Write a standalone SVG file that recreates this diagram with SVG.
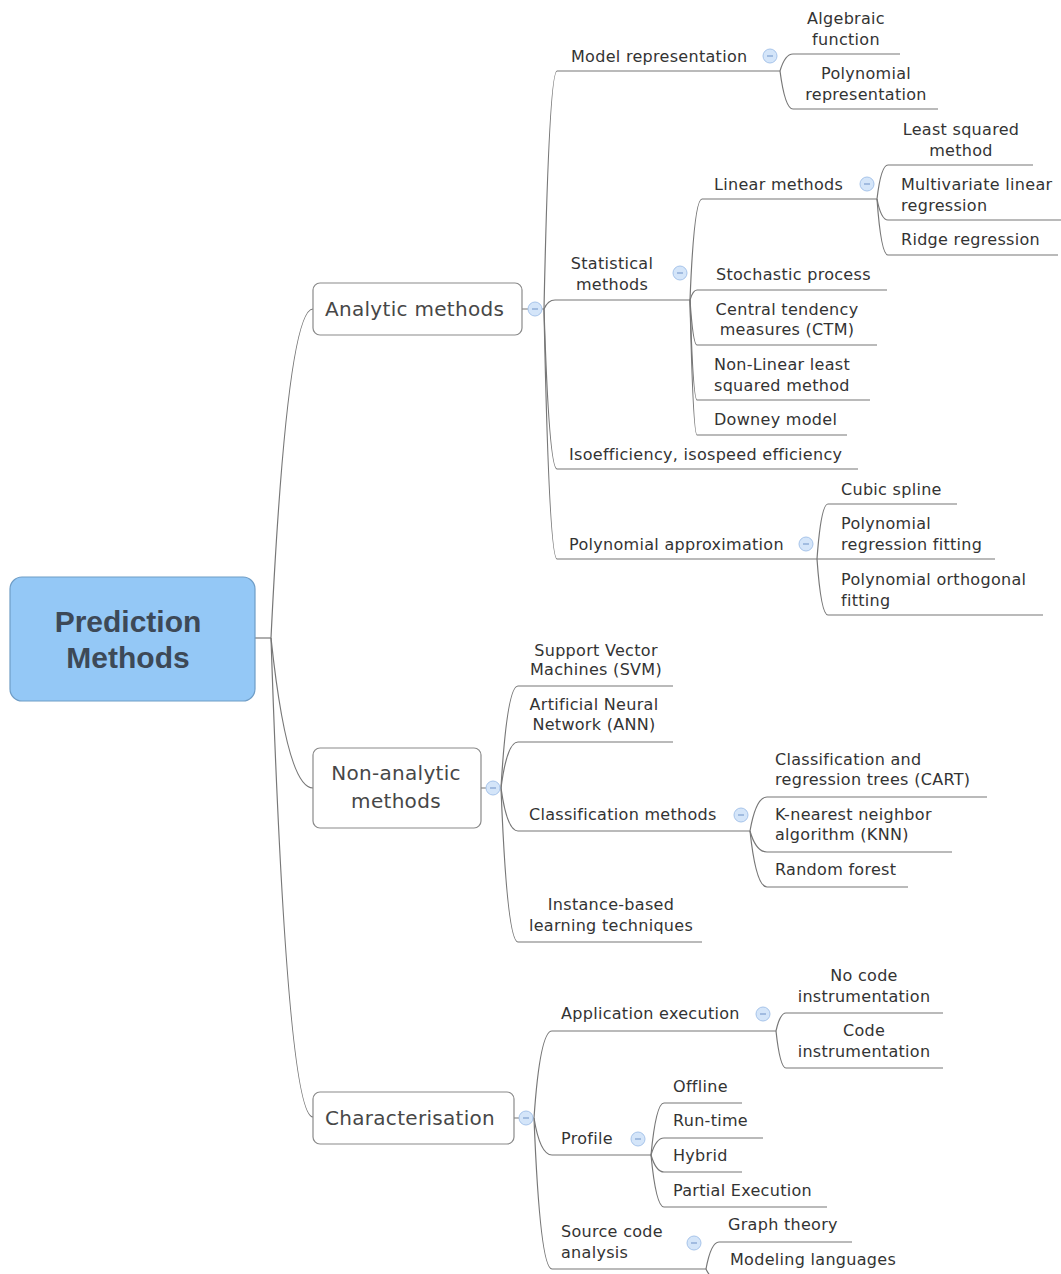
<svg xmlns="http://www.w3.org/2000/svg" width="1061" height="1274" viewBox="0 0 1061 1274">
  <defs>
    <style>
      .bg { fill: #ffffff; }
      .link { fill: none; stroke: #777777; stroke-width: 1.2; }
      .root-box { fill: #94c8f6; stroke: #6f9dc6; stroke-width: 1.2; }
      .root-text { font-family: "Liberation Sans", Arial, sans-serif; font-weight: bold; font-size: 30px; fill: #3d4957; text-anchor: middle; }
      .main-box { fill: #ffffff; stroke: #8a8a8a; stroke-width: 1.2; }
      .main-text { font-family: "DejaVu Sans", Verdana, sans-serif; font-size: 20px; fill: #474747; letter-spacing: 0.3px; }
      .leaf { font-family: "DejaVu Sans", Verdana, sans-serif; font-size: 16px; fill: #333333; letter-spacing: 0.3px; }
      .mid { text-anchor: middle; }
      .tg-c { fill: #d4e5f9; stroke: #a7c4ea; stroke-width: 1; }
      .tg-l { stroke: #7f9fcf; stroke-width: 1.2; }
    </style>
    <g id="minus">
      <circle class="tg-c" cx="0" cy="0" r="7"/>
      <line class="tg-l" x1="-3" y1="0" x2="3" y2="0"/>
    </g>
  </defs>

  <rect class="bg" x="0" y="0" width="1061" height="1274"/>

  <!-- connectors -->
  <g id="connectors" class="link">
    <!-- root to main topics -->
    <path d="M255 638 H271"/>
    <path d="M271 638 Q287 309 313 309"/>
    <path d="M271 638 Q287 788 313 788"/>
    <path d="M271 638 Q287 1117 313 1117"/>

    <!-- Analytic methods -->
    <path d="M522 309 H528 M542 309 H544"/>
    <path d="M544 309 Q549 71 557 71 H780"/>
    <path d="M544 309 Q548 300 555 300 H690"/>
    <path d="M544 309 Q549 469 557 469 H858"/>
    <path d="M544 309 Q549 559 557 559 H817"/>

    <!-- Model representation -->
    <path d="M780 71 Q785 54 793 54 H900"/>
    <path d="M780 71 Q785 109 793 109 H938"/>

    <!-- Statistical methods -->
    <path d="M690 300 Q694 199 702 199 H877"/>
    <path d="M690 300 Q693 290 697 290 H887"/>
    <path d="M690 300 Q693 345 697 345 H877"/>
    <path d="M690 300 Q693 400 697 400 H870"/>
    <path d="M690 300 Q693 435 697 435 H847"/>

    <!-- Linear methods -->
    <path d="M877 199 Q881 165 888 165 H1033"/>
    <path d="M877 199 Q881 220 888 220 H1061"/>
    <path d="M877 199 Q881 255 888 255 H1058"/>

    <!-- Polynomial approximation -->
    <path d="M817 559 Q821 504 828 504 H957"/>
    <path d="M817 559 H995"/>
    <path d="M817 559 Q821 615 828 615 H1043"/>

    <!-- Non-analytic methods -->
    <path d="M481 788 H486 M500 788 H501"/>
    <path d="M501 788 Q507 686 518 686 H673"/>
    <path d="M501 788 Q507 742 518 742 H673"/>
    <path d="M501 788 Q507 831 518 831 H750"/>
    <path d="M501 788 Q507 942 518 942 H702"/>

    <!-- Classification methods -->
    <path d="M750 831 Q756 797 767 797 H987"/>
    <path d="M750 831 Q756 852 767 852 H952"/>
    <path d="M750 831 Q756 887 767 887 H908"/>

    <!-- Characterisation -->
    <path d="M514 1118 H519 M533 1118 H534"/>
    <path d="M534 1118 Q540 1031 552 1031 H776"/>
    <path d="M534 1118 Q540 1155 552 1155 H651"/>
    <path d="M534 1118 Q540 1269 552 1269 H706"/>

    <!-- Application execution -->
    <path d="M776 1031 Q780 1013 786 1013 H943"/>
    <path d="M776 1031 Q780 1068 786 1068 H943"/>

    <!-- Profile -->
    <path d="M651 1155 Q656 1103 664 1103 H742"/>
    <path d="M651 1155 Q656 1138 664 1138 H763"/>
    <path d="M651 1155 Q656 1172 664 1172 H742"/>
    <path d="M651 1155 Q656 1207 664 1207 H827"/>

    <!-- Source code analysis -->
    <path d="M706 1269 Q711 1242 719 1242 H852"/>
    <path d="M706 1269 Q711 1280 719 1280 H900"/>
  </g>

  <!-- collapse toggles -->
  <g id="toggles">
    <use href="#minus" x="535" y="309"/>
    <use href="#minus" x="770" y="56"/>
    <use href="#minus" x="680" y="273"/>
    <use href="#minus" x="867" y="184"/>
    <use href="#minus" x="806" y="544"/>
    <use href="#minus" x="493" y="788"/>
    <use href="#minus" x="741" y="815"/>
    <use href="#minus" x="526" y="1118"/>
    <use href="#minus" x="763" y="1014"/>
    <use href="#minus" x="638" y="1139"/>
    <use href="#minus" x="694" y="1243"/>
  </g>

  <!-- central topic -->
  <g id="node-root">
    <rect class="root-box" x="10" y="577" width="245" height="124" rx="12"/>
    <text class="root-text" x="128" y="632">Prediction</text>
    <text class="root-text" x="128" y="668">Methods</text>
  </g>

  <!-- main topics -->
  <g id="node-analytic">
    <rect class="main-box" x="313" y="283" width="209" height="52" rx="7"/>
    <text class="main-text" x="325" y="316">Analytic methods</text>
  </g>
  <g id="node-nonanalytic">
    <rect class="main-box" x="313" y="748" width="168" height="80" rx="7"/>
    <text class="main-text mid" x="396" y="780">Non-analytic</text>
    <text class="main-text mid" x="396" y="808">methods</text>
  </g>
  <g id="node-characterisation">
    <rect class="main-box" x="313" y="1092" width="201" height="52" rx="7"/>
    <text class="main-text" x="325" y="1125">Characterisation</text>
  </g>

  <!-- Analytic methods subtopics -->
  <g id="node-model-representation"><text class="leaf" x="571" y="62">Model representation</text></g>
  <g id="node-algebraic"><text class="leaf mid" x="846" y="24">Algebraic</text><text class="leaf mid" x="846" y="45">function</text></g>
  <g id="node-polynomial-representation"><text class="leaf mid" x="866" y="79">Polynomial</text><text class="leaf mid" x="866" y="100">representation</text></g>

  <g id="node-statistical"><text class="leaf mid" x="612" y="269">Statistical</text><text class="leaf mid" x="612" y="290">methods</text></g>
  <g id="node-linear"><text class="leaf" x="714" y="190">Linear methods</text></g>
  <g id="node-least-squared"><text class="leaf mid" x="961" y="135">Least squared</text><text class="leaf mid" x="961" y="156">method</text></g>
  <g id="node-multivariate"><text class="leaf" x="901" y="190">Multivariate linear</text><text class="leaf" x="901" y="211">regression</text></g>
  <g id="node-ridge"><text class="leaf" x="901" y="245">Ridge regression</text></g>
  <g id="node-stochastic"><text class="leaf" x="716" y="280">Stochastic process</text></g>
  <g id="node-ctm"><text class="leaf mid" x="787" y="315">Central tendency</text><text class="leaf mid" x="787" y="335">measures (CTM)</text></g>
  <g id="node-nonlinear"><text class="leaf" x="714" y="370">Non-Linear least</text><text class="leaf" x="714" y="391">squared method</text></g>
  <g id="node-downey"><text class="leaf" x="714" y="425">Downey model</text></g>

  <g id="node-isoefficiency"><text class="leaf" x="569" y="460">Isoefficiency, isospeed efficiency</text></g>

  <g id="node-polynomial-approximation"><text class="leaf" x="569" y="550">Polynomial approximation</text></g>
  <g id="node-cubic"><text class="leaf" x="841" y="495">Cubic spline</text></g>
  <g id="node-poly-regression"><text class="leaf" x="841" y="529">Polynomial</text><text class="leaf" x="841" y="550">regression fitting</text></g>
  <g id="node-poly-orthogonal"><text class="leaf" x="841" y="585">Polynomial orthogonal</text><text class="leaf" x="841" y="606">fitting</text></g>

  <!-- Non-analytic methods subtopics -->
  <g id="node-svm"><text class="leaf mid" x="596" y="656">Support Vector</text><text class="leaf mid" x="596" y="675">Machines (SVM)</text></g>
  <g id="node-ann"><text class="leaf mid" x="594" y="710">Artificial Neural</text><text class="leaf mid" x="594" y="730">Network (ANN)</text></g>
  <g id="node-classification"><text class="leaf" x="529" y="820">Classification methods</text></g>
  <g id="node-cart"><text class="leaf" x="775" y="765">Classification and</text><text class="leaf" x="775" y="785">regression trees (CART)</text></g>
  <g id="node-knn"><text class="leaf" x="775" y="820">K-nearest neighbor</text><text class="leaf" x="775" y="840">algorithm (KNN)</text></g>
  <g id="node-random-forest"><text class="leaf" x="775" y="875">Random forest</text></g>
  <g id="node-instance"><text class="leaf mid" x="611" y="910">Instance-based</text><text class="leaf mid" x="611" y="931">learning techniques</text></g>

  <!-- Characterisation subtopics -->
  <g id="node-application"><text class="leaf" x="561" y="1019">Application execution</text></g>
  <g id="node-no-code"><text class="leaf mid" x="864" y="981">No code</text><text class="leaf mid" x="864" y="1002">instrumentation</text></g>
  <g id="node-code"><text class="leaf mid" x="864" y="1036">Code</text><text class="leaf mid" x="864" y="1057">instrumentation</text></g>
  <g id="node-profile"><text class="leaf" x="561" y="1144">Profile</text></g>
  <g id="node-offline"><text class="leaf" x="673" y="1092">Offline</text></g>
  <g id="node-runtime"><text class="leaf" x="673" y="1126">Run-time</text></g>
  <g id="node-hybrid"><text class="leaf" x="673" y="1161">Hybrid</text></g>
  <g id="node-partial"><text class="leaf" x="673" y="1196">Partial Execution</text></g>
  <g id="node-source"><text class="leaf" x="561" y="1237">Source code</text><text class="leaf" x="561" y="1258">analysis</text></g>
  <g id="node-graph"><text class="leaf" x="728" y="1230">Graph theory</text></g>
  <g id="node-modeling"><text class="leaf" x="730" y="1265">Modeling languages</text></g>
</svg>
